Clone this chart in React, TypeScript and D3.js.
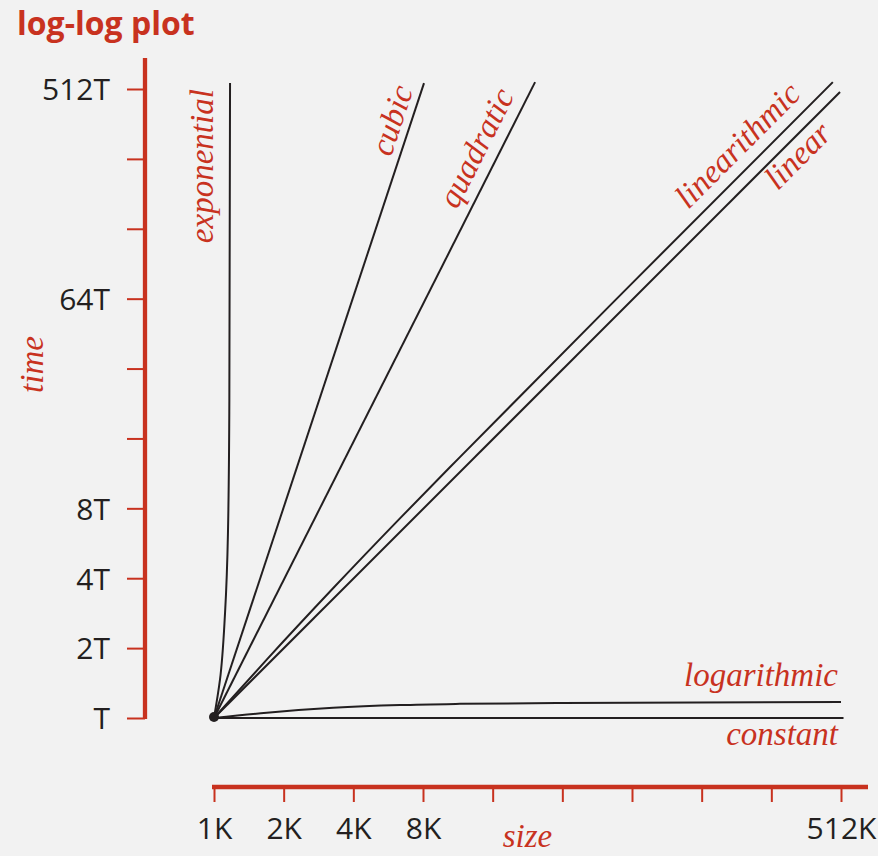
import React, { useEffect, useRef } from 'react';
import * as d3 from 'd3';

const RED = '#c8321f';
const INK = '#231f20';
const BG = '#f2f2f2';

const sizeTicks = [1, 2, 4, 8, 16, 32, 64, 128, 256, 512];
const sizeTickLabels = ['1K', '2K', '4K', '8K', '', '', '', '', '', '512K'];
const timeTicks = [1, 2, 4, 8, 16, 32, 64, 128, 256, 512];
const timeTickLabels = ['T', '2T', '4T', '8T', '', '', '64T', '', '', '512T'];

// size in K, time in T
const constantSize = [1, 525];
const constantTime = [1, 1];
const logSize = [1, 1.69, 3.27, 6.36, 11.55, 32, 512];
const logTime = [1, 1.054, 1.106, 1.137, 1.151, 1.161, 1.173];
const linearSize = [1, 507];
const linearTime = [1, 497];
const nlognSize = [1, 1.69, 3.27, 6.36, 11.55, 64, 472];
const nlognTime = [1, 1.785, 3.62, 7.24, 13.3, 74.5, 548];
const quadSize = [1, 24.4];
const quadTime = [1, 548];
const cubicSize = [1, 8.08];
const cubicTime = [1, 543];
const expSize = [1, 1.061, 1.116, 1.149, 1.165, 1.173];
const expTime = [1, 1.458, 2.83, 6.26, 23.4, 543];

const series = [
  { name: 'constant', size: constantSize, time: constantTime, label: { at: 497, byTime: false, anchor: 'end', dy: 27, rotate: 0 } },
  { name: 'logarithmic', size: logSize, time: logTime, label: { at: 497, byTime: false, anchor: 'end', dy: -16, rotate: 0 } },
  { name: 'linear', size: linearSize, time: linearTime, label: { at: 227, byTime: false, anchor: 'start', dy: 26 } },
  { name: 'linearithmic', size: nlognSize, time: nlognTime, label: { at: 122, byTime: false, anchor: 'start', dy: -12 } },
  { name: 'quadratic', size: quadSize, time: quadTime, label: { at: 22.2, byTime: false, anchor: 'end', dy: -12 } },
  { name: 'cubic', size: cubicSize, time: cubicTime, label: { at: 7.84, byTime: false, anchor: 'end', dy: -8 } },
  { name: 'exponential', size: expSize, time: expTime, label: { at: 111, byTime: true, anchor: 'start', dy: -17, rotate: -90 } },
];

const W = 878;
const H = 856;

function LogLogPlot() {
  const svgRef = useRef(null);

  useEffect(() => {
    const svg = d3.select(svgRef.current);
    svg.selectAll('*').remove();

    const x = d3.scaleLog().base(2).domain([1, 512]).range([214, 841]);
    const y = d3.scaleLog().base(2).domain([1, 512]).range([718, 89]);

    svg.append('rect').attr('width', W).attr('height', H).attr('fill', BG);

    // title
    svg.append('text')
      .attr('x', 17).attr('y', 35)
      .attr('fill', RED)
      .style('font-family', '"Open Sans", sans-serif')
      .style('font-weight', 700)
      .style('font-size', '32px')
      .text('log-log plot');

    // y axis
    const yAxis = svg.append('g')
      .attr('transform', 'translate(145,0)')
      .call(d3.axisLeft(y).tickValues(timeTicks).tickSize(18).tickPadding(17)
        .tickFormat((d, i) => timeTickLabels[i]));
    yAxis.select('.domain').remove();
    yAxis.selectAll('line').attr('stroke', RED).attr('stroke-width', 2);
    yAxis.selectAll('text')
      .attr('fill', INK).attr('dy', '0.36em')
      .style('font-family', '"Open Sans", sans-serif').style('font-size', '30px');
    svg.append('line')
      .attr('x1', 145).attr('x2', 145)
      .attr('y1', y(1) + 1).attr('y2', y(512) - 31)
      .attr('stroke', RED).attr('stroke-width', 4.3);

    // x axis
    const xAxis = svg.append('g')
      .attr('transform', 'translate(0,787)')
      .call(d3.axisBottom(x).tickValues(sizeTicks).tickSize(15).tickPadding(16)
        .tickFormat((d, i) => sizeTickLabels[i]));
    xAxis.select('.domain').remove();
    xAxis.selectAll('line').attr('stroke', RED).attr('stroke-width', 2);
    xAxis.selectAll('text')
      .attr('fill', INK)
      .style('font-family', '"Open Sans", sans-serif').style('font-size', '30px');
    svg.append('line')
      .attr('x1', x(1) - 2).attr('x2', x(512) + 27)
      .attr('y1', 787).attr('y2', 787)
      .attr('stroke', RED).attr('stroke-width', 4.3);

    // axis titles
    svg.append('text')
      .attr('transform', `translate(43,${y(32) - 4}) rotate(-90)`)
      .attr('text-anchor', 'middle')
      .attr('fill', RED)
      .style('font-family', '"Liberation Serif", serif').style('font-style', 'italic').style('font-size', '33px')
      .text('time');
    svg.append('text')
      .attr('x', x(22.6)).attr('y', 847)
      .attr('text-anchor', 'middle')
      .attr('fill', RED)
      .style('font-family', '"Liberation Serif", serif').style('font-style', 'italic').style('font-size', '33px')
      .text('size');

    // curves
    series.forEach(s => {
      const pts = s.size.map((v, i) => [x(v), y(s.time[i])]);
      const curve = s.name === 'exponential' ? d3.curveMonotoneY : d3.curveMonotoneX;
      svg.append('path')
        .attr('d', d3.line().curve(curve)(pts))
        .attr('fill', 'none')
        .attr('stroke', INK)
        .attr('stroke-width', 2);

      // label position along the curve
      const lb = s.label;
      const key = lb.byTime ? pts.map(p => p[1]) : pts.map(p => p[0]);
      const target = lb.byTime ? y(lb.at) : x(lb.at);
      let px = pts[pts.length - 1][0], py = pts[pts.length - 1][1], ang = 0;
      for (let i = 0; i < pts.length - 1; i++) {
        const a = key[i], b = key[i + 1];
        if ((target - a) * (target - b) <= 0) {
          const f = (target - a) / (b - a);
          px = pts[i][0] + f * (pts[i + 1][0] - pts[i][0]);
          py = pts[i][1] + f * (pts[i + 1][1] - pts[i][1]);
          ang = Math.atan2(pts[i + 1][1] - pts[i][1], pts[i + 1][0] - pts[i][0]) * 180 / Math.PI;
          break;
        }
      }
      if (lb.rotate !== undefined) ang = lb.rotate;
      svg.append('text')
        .attr('transform', `translate(${px},${py}) rotate(${ang})`)
        .attr('dy', lb.dy)
        .attr('text-anchor', lb.anchor)
        .attr('fill', RED)
        .style('font-family', '"Liberation Serif", serif')
        .style('font-style', 'italic')
        .style('font-size', '33px')
        .text(s.name);
    });

    // common origin
    svg.append('circle')
      .attr('cx', x(1)).attr('cy', y(1) - 1).attr('r', 5)
      .attr('fill', INK);
  }, []);

  return (
    <svg ref={svgRef} width={W} height={H}
      style={{ position: 'absolute', left: 0, top: 0, display: 'block' }}></svg>
  );
}

export default function App() {
  return <LogLogPlot />;
}
